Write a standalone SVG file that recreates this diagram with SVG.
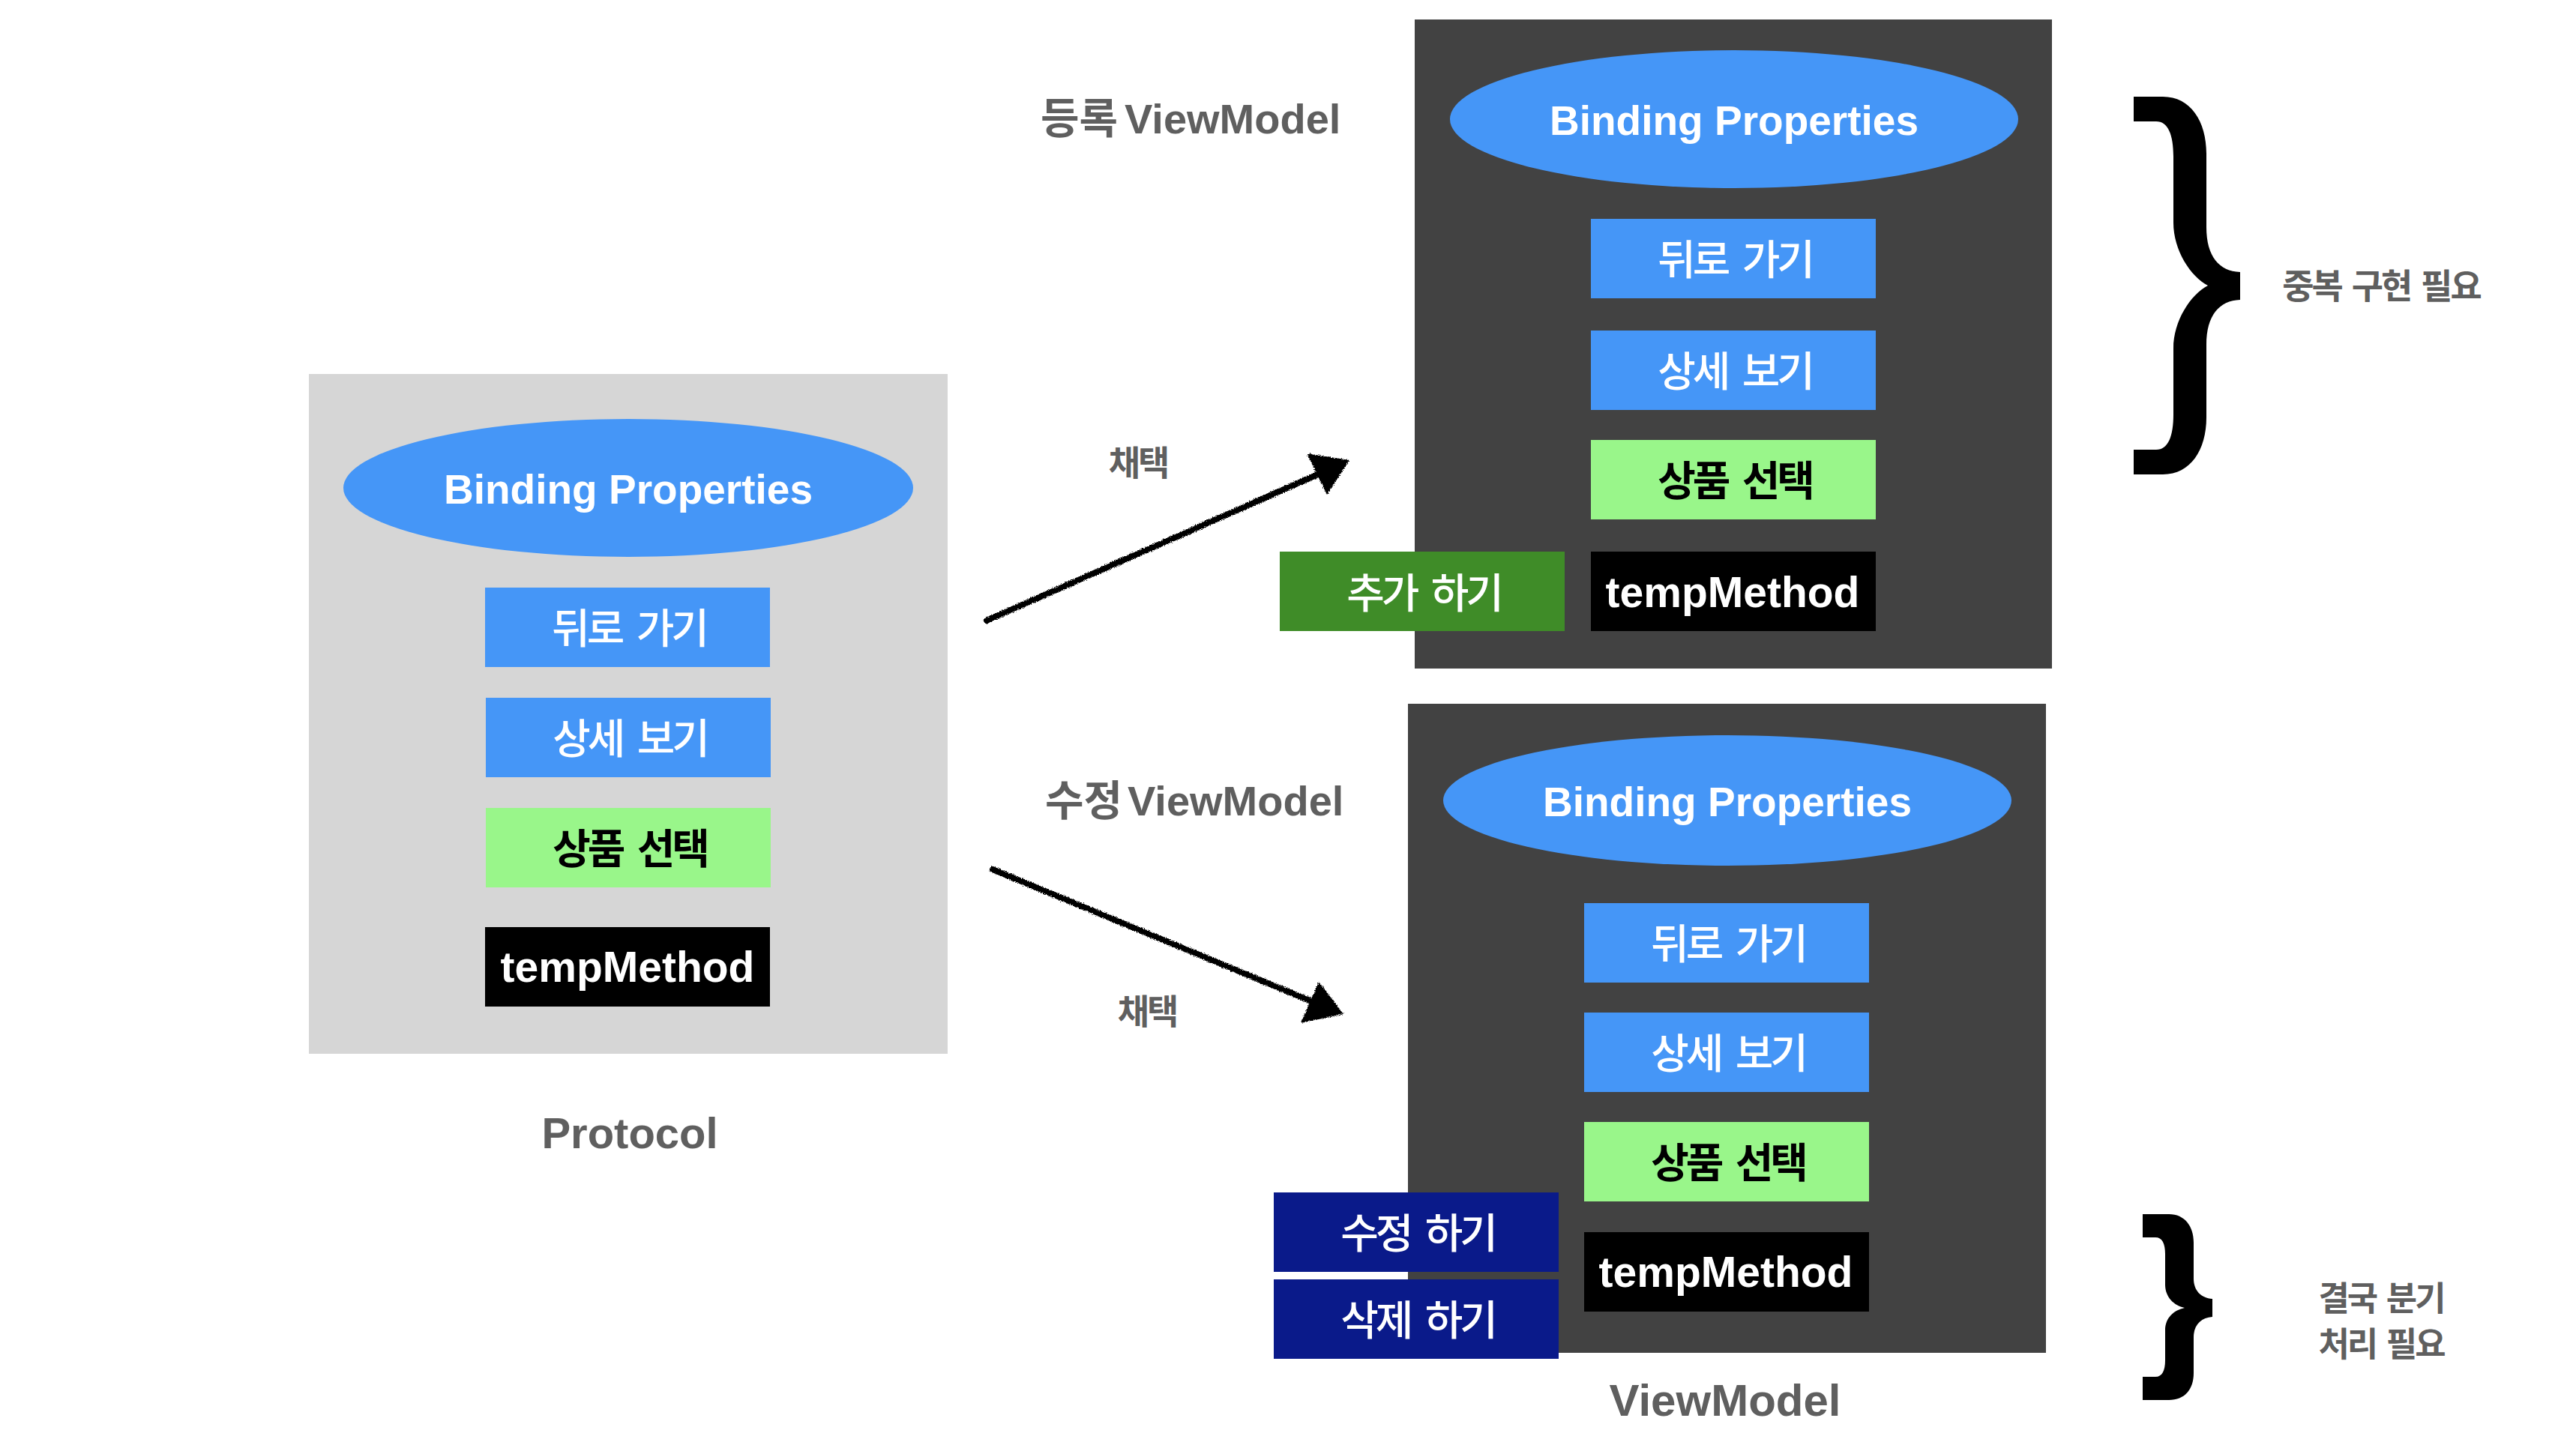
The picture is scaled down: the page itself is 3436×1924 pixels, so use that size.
<svg xmlns="http://www.w3.org/2000/svg" width="3436" height="1924" viewBox="0 0 3436 1924">
<defs>
<style>
.lat{font-family:"Liberation Sans","Noto Sans CJK KR",Arial,sans-serif;font-weight:bold}
.kr{font-family:"Liberation Sans","Noto Sans CJK KR",sans-serif;font-weight:500}
.kr.b{font-weight:bold}
.wt{fill:#ffffff}
.bk{fill:#000000}
.lbl{fill:#5F5F5F;font-family:"Liberation Sans","Noto Sans CJK KR",sans-serif;font-weight:bold}
.mid{text-anchor:middle}
.blue{fill:#4596F7}
.lgreen{fill:#99F68A}
.dgreen{fill:#3F8C28}
.navy{fill:#0A1A8A}
.black{fill:#000000}
.dark{fill:#424242}
.light{fill:#D6D6D6}
.bp{font-size:55px}
.box{font-size:55px;letter-spacing:-4px;word-spacing:8px}
.tm{font-size:57px}
.arrow{stroke:#000;stroke-width:8;fill:none;stroke-linecap:round}
</style>
<filter id="rough" x="-5%" y="-20%" width="110%" height="140%">
<feTurbulence type="fractalNoise" baseFrequency="0.9" numOctaves="2" seed="3" result="n"/>
<feDisplacementMap in="SourceGraphic" in2="n" scale="5" xChannelSelector="R" yChannelSelector="G"/>
</filter>
</defs>
<rect width="3436" height="1924" fill="#ffffff"/>

<g id="protocol">
<rect class="light" x="412" y="499" width="852" height="907"/>
<g id="protocol-binding">
<ellipse class="blue" cx="838" cy="651" rx="380" ry="92"/>
<text class="lat wt bp mid" x="838" y="672">Binding Properties</text>
</g>
<g id="protocol-back"><rect class="blue" x="647" y="784" width="380" height="106"/><text class="kr wt box mid" x="839" y="858">뒤로 가기</text></g>
<g id="protocol-detail"><rect class="blue" x="648" y="931" width="380" height="106"/><text class="kr wt box mid" x="840" y="1005">상세 보기</text></g>
<g id="protocol-select"><rect class="lgreen" x="648" y="1078" width="380" height="106"/><text class="kr b bk box mid" x="840" y="1152">상품 선택</text></g>
<g id="protocol-temp"><rect class="black" x="647" y="1237" width="380" height="106"/><text class="lat wt tm mid" x="837" y="1310">tempMethod</text></g>
<text class="lbl mid" x="840" y="1532" font-size="58">Protocol</text>
</g>

<g id="register-vm">
<text class="lbl" x="1388" y="178" font-size="56">등록 <tspan x="1500">ViewModel</tspan></text>
<rect class="dark" x="1887" y="26" width="850" height="866"/>
<g id="reg-binding">
<ellipse class="blue" cx="2313" cy="159" rx="379" ry="92"/>
<text class="lat wt bp mid" x="2313" y="180">Binding Properties</text>
</g>
<g id="reg-back"><rect class="blue" x="2122" y="292" width="380" height="106"/><text class="kr wt box mid" x="2314" y="366">뒤로 가기</text></g>
<g id="reg-detail"><rect class="blue" x="2122" y="441" width="380" height="106"/><text class="kr wt box mid" x="2314" y="515">상세 보기</text></g>
<g id="reg-select"><rect class="lgreen" x="2122" y="587" width="380" height="106"/><text class="kr b bk box mid" x="2314" y="661">상품 선택</text></g>
<g id="reg-temp"><rect class="black" x="2122" y="736" width="380" height="106"/><text class="lat wt tm mid" x="2311" y="810">tempMethod</text></g>
<g id="reg-add"><rect class="dgreen" x="1707" y="736" width="380" height="106"/><text class="kr wt box mid" x="1899" y="811">추가 하기</text></g>
</g>

<g id="edit-vm">
<text class="lbl" x="1394" y="1088" font-size="56">수정 <tspan x="1504">ViewModel</tspan></text>
<rect class="dark" x="1878" y="939" width="851" height="866"/>
<g id="edit-binding">
<ellipse class="blue" cx="2304" cy="1068" rx="379" ry="87"/>
<text class="lat wt bp mid" x="2304" y="1089">Binding Properties</text>
</g>
<g id="edit-back"><rect class="blue" x="2113" y="1205" width="380" height="106"/><text class="kr wt box mid" x="2305" y="1279">뒤로 가기</text></g>
<g id="edit-detail"><rect class="blue" x="2113" y="1351" width="380" height="106"/><text class="kr wt box mid" x="2305" y="1425">상세 보기</text></g>
<g id="edit-select"><rect class="lgreen" x="2113" y="1497" width="380" height="106"/><text class="kr b bk box mid" x="2305" y="1571">상품 선택</text></g>
<g id="edit-temp"><rect class="black" x="2113" y="1644" width="380" height="106"/><text class="lat wt tm mid" x="2302" y="1717">tempMethod</text></g>
<g id="edit-modify"><rect class="navy" x="1699" y="1591" width="380" height="106"/><text class="kr wt box mid" x="1891" y="1665">수정 하기</text></g>
<g id="edit-delete"><rect class="navy" x="1699" y="1707" width="380" height="106"/><text class="kr wt box mid" x="1891" y="1781">삭제 하기</text></g>
<text class="lbl mid" x="2301" y="1889" font-size="60">ViewModel</text>
</g>

<g id="connectors" filter="url(#rough)">
<line class="arrow" x1="1316" y1="828" x2="1760" y2="632"/>
<polygon points="1800,614 1743,605 1770,660" fill="#000"/>
<line class="arrow" x1="1324" y1="1160" x2="1752" y2="1337"/>
<polygon points="1792,1353 1759,1310 1735,1365" fill="#000"/>
</g>
<g id="connector-labels">
<text class="lbl mid" x="1518" y="634" font-size="46" letter-spacing="-3">채택</text>
<text class="lbl mid" x="1530" y="1366" font-size="46" letter-spacing="-3">채택</text>
</g>

<g id="brace-top">
<path fill="#000" d="M2846 129 L2885 129 C2922 129 2943 162 2943 205 L2943 303 C2943 342 2960 362 2988 363 L2988 400 C2960 401 2943 421 2943 460 L2943 557 C2943 600 2922 633 2885 633 L2846 633 L2846 600 L2876 600 C2892 600 2899 582 2899 553 L2899 465 C2899 428 2922 393 2945 381 C2922 369 2899 334 2899 297 L2899 209 C2899 180 2892 162 2876 162 L2846 162 Z"/>
<text class="lbl mid" x="3176" y="398" font-size="46" letter-spacing="-3" word-spacing="4">중복 구현 필요</text>
</g>
<g id="brace-bottom">
<path fill="#000" d="M2858 1620 L2893 1620 C2914 1620 2926 1636 2926 1658 L2926 1706 C2926 1722 2936 1732 2951 1733 L2951 1757 C2936 1758 2926 1768 2926 1784 L2926 1832 C2926 1854 2914 1868 2893 1868 L2858 1868 L2858 1837 L2875 1837 C2884 1837 2888 1829 2888 1815 L2888 1775 C2888 1758 2900 1748 2914 1745 C2900 1742 2888 1731 2888 1714 L2888 1673 C2888 1659 2884 1651 2875 1651 L2858 1651 Z"/>
<text class="lbl mid" x="3176" y="1749" font-size="45" letter-spacing="-3" word-spacing="4">결국 분기</text>
<text class="lbl mid" x="3176" y="1810" font-size="45" letter-spacing="-3" word-spacing="4">처리 필요</text>
</g>
</svg>
